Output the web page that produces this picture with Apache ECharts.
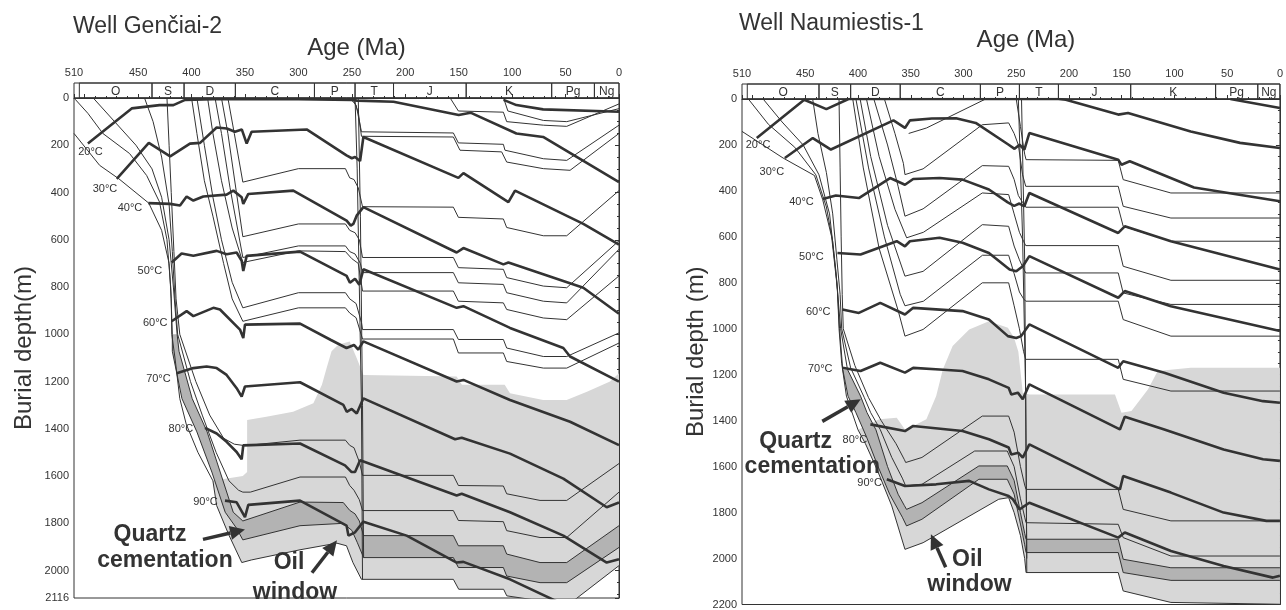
<!DOCTYPE html>
<html>
<head>
<meta charset="utf-8">
<script src="https://cdn.jsdelivr.net/npm/echarts@6/dist/echarts.min.js"></script>
<style>
  html, body { margin: 0; padding: 0; background: #fff; }
  #chart { width: 1286px; height: 610px; }
</style>
</head>
<body>
<div id="chart"></div>
<script>
// ---------- stratigraphic column ----------
var periodNames = ['O', 'S', 'D', 'C', 'P', 'T', 'J', 'K', 'Pg', 'Ng'];
var g2PeriodStart = [505, 437, 407, 359, 285, 247, 211, 143, 63, 23];
var n1PeriodStart = [505, 437, 407, 360, 284, 247, 210, 141.5, 61, 21];

// ---------- Well Genciai-2 : isotherms [age Ma, depth m] ----------
var g2Iso10 = [[108,8],[96,30],[71,48],[0,58]];
var g2Iso20 = [[497,193],[456,44],[430,30],[417,30],[406,8],[380,5],[300,5],[250,8],[245,11],[211,16],[150,72],[139,62],[96,150],[71,165],[0,356]];
var g2Iso30 = [[470,342],[440,190],[420,247],[401.5,193],[392,190],[376.5,125],[367,129],[359.4,143],[353,133],[348.4,193],[343.8,143],[292.3,133],[255,243],[250,255],[247,250],[242.3,267],[239.2,165],[150.3,338],[145.6,318],[103.5,441],[97.3,392],[33.4,533],[0,621]];
var g2Iso40 = [[440.4,445],[420.2,448],[410.8,455],[404.6,417],[398.3,434],[389,417],[367.2,409],[360.9,392],[353.1,420],[351.6,448],[346.9,406],[304.8,392],[254.9,519],[251,540],[248.6,533],[245.5,498],[239.2,462],[151.9,654],[145.6,635],[108.2,704],[103.5,696],[33.4,803],[0,913]];
var g2Iso50 = [[418.6,696],[409.3,658],[398.3,668],[376.5,647],[367.2,661],[357.8,654],[353.1,689],[351.6,732],[348.4,668],[298.5,650],[254.9,753],[251.8,782],[247,765],[243,790],[239.2,725],[151.9,888],[145.6,881],[102,973],[52.1,1058],[45.8,1094],[0,1200]];
var g2Iso60 = [[418.6,945],[404.6,902],[398.3,923],[379.6,888],[373.4,895],[354.7,980],[351.6,1016],[350,959],[298.5,955],[270,1023],[255,1058],[248,1045],[244,1065],[239.2,1030],[151.9,1200],[145.6,1193],[102,1278],[45.8,1370],[0,1469]];
var g2Iso70 = [[413.9,1165],[398.3,1143],[385.9,1136],[376.5,1143],[367.2,1172],[357.8,1228],[353.1,1264],[350,1221],[298.5,1203],[257.9,1299],[254.8,1328],[250.1,1316],[245.4,1335],[239.2,1271],[153.4,1444],[147.2,1438],[102,1505],[52.1,1611],[11.5,1732],[0,1712]];
var g2Iso80 = [[387.4,1396],[376.5,1420],[367.2,1455],[357.8,1498],[353.1,1529],[351.6,1470],[298.5,1462],[256.4,1555],[250.2,1583],[247,1583],[242.3,1533],[151.9,1682],[147.2,1675],[102,1753],[52.1,1852],[11.5,1966],[0,1952]];
var g2Iso90 = [[368.7,1704],[357.8,1711],[350,1774],[346.9,1722],[298.5,1704],[254.9,1810],[253.2,1852],[247,1838],[239.2,1793],[198.7,1852],[151.9,1966],[145.6,1963],[102,2037],[48.9,2150]];

// ---------- Well Genciai-2 : burial curves ----------
var g2Base = [[510,150],[486,285],[468,342],[440,445],[428,560],[421,700],[419,850],[418.5,1000],[415.5,1100],[411,1272],[405,1380],[394,1500],[380,1620],[376.5,1725],[365,1850],[353,1966],[344,1955],[298.5,1912],[264,1884],[255,1895],[249,1966],[241,2037],[155,2037],[150,2079],[108,2079],[105,2107],[70,2130],[49,2150],[0,1979]];
var g2LayerL = [[509,5],[497,65],[483,150],[458,235],[442,328],[430,440],[423,600],[419.5,800],[418,1000],[418,1072],[409,1272],[395,1413],[381,1583],[368.5,1753],[358,1820],[352,1870],[298.5,1810],[258,1800],[250,1830],[245,1880],[239,1945],[155,1945],[150.3,1987],[108.2,1987],[105.1,2023],[73.9,2051],[48.9,2051],[0,1902]];
var g2LayerK = [[492,0],[472,100],[452,200],[437,300],[428,420],[421,600],[417,800],[413.5,1000],[411.7,1072],[399.4,1272],[385.4,1413],[373.2,1583],[361,1753],[352,1790],[298.5,1710],[258,1712],[252,1745],[247,1760],[243,1790],[239,1852],[155,1852],[150.3,1895],[108.2,1895],[105.1,1930],[73.9,1966],[48.9,1966],[0,1810]];
var g2LayerJ = [[444,0],[436,100],[428,250],[421,450],[418,650],[415.5,850],[413,1000],[401,1200],[390,1342],[377,1500],[365,1620],[356,1660],[352,1668],[345,1668],[298.5,1604],[256,1604],[252,1640],[248,1660],[243,1700],[240,1746],[155,1746],[150.3,1788],[108.2,1793],[105.1,1831],[73.9,1860],[48.9,1860],[0,1668]];
var g2LayerI = [[423,0],[421,200],[419,400],[416.5,650],[414.5,850],[411,1000],[396,1200],[383,1342],[370,1440],[360,1465],[352,1470],[345,1469],[298.5,1448],[256,1448],[252,1470],[248,1480],[243,1540],[240,1597],[155,1597],[150.3,1640],[108.2,1642],[105.1,1675],[73.9,1703],[48.9,1703],[0,1547]];
var g2LayerD6 = [[400,0],[395,150],[388,350],[380,500],[370,700],[362,850],[352,945],[300,888],[256,888],[252,910],[246,930],[240,1020],[155,1020],[150.3,1079],[108.2,1079],[105.1,1115],[70.8,1143],[48.9,1143],[0,1037]];
var g2LayerD5 = [[395,0],[388,200],[380,420],[372,600],[362,780],[352,888],[300,824],[256,824],[252,850],[246,870],[241,950],[240,980],[155,980],[150.3,1022],[108.2,1022],[105.1,1058],[70.8,1094],[48.9,1094],[0,994]];
var g2LayerD4 = [[385,0],[380,150],[372,350],[362,550],[352,696],[300,647],[256,650],[250,680],[244,700],[240,817],[155,817],[150.3,860],[108.2,867],[105.1,895],[70.8,931],[48.9,938],[0,753]];
var g2LayerD3 = [[378,0],[372,150],[364,380],[352,675],[300,626],[256,626],[252,650],[247,660],[242,700],[240,739],[155,739],[150.3,782],[108.2,789],[105.1,824],[70.8,860],[48.9,867],[0,640]];
var g2LayerD2 = [[372,0],[366,150],[358,400],[352,587],[300,533],[256,533],[252,560],[247,570],[243,600],[240,675],[155,675],[150.3,718],[108.2,725],[105.1,760],[70.8,796],[48.9,803],[0,604]];
var g2LayerD1 = [[366,0],[360,150],[352,356],[300,299],[256,299],[252,338],[248,345],[244,380],[240,460],[155,462],[150.3,505],[108.2,512],[105.1,548],[70.8,583],[48.9,583],[0,392]];
var g2LayerTa = [[252,0],[246,30],[241,143],[155,148],[150.3,190],[108.2,196],[106.7,221],[70.8,257],[48.9,264],[0,115]];
var g2LayerTb = [[249,0],[244,60],[241,162],[155,165],[148.8,221],[109.8,228],[105.1,271],[70.8,299],[45.8,306],[0,150]];
var g2LayerJr = [[158,0],[150.3,55],[108.2,60],[105.1,100],[70.8,115],[48.9,120],[0,25]];
var g2LayerKr = [[108,0],[104,55],[70.8,95],[48.9,100],[0,45]];
var g2Steep1 = [[247,0],[245,300],[243,800],[241,1300],[240,2037]];
var g2Steep2 = [[244,0],[242,500],[240,1300],[239,1945]];
// upper edge of the oil window (lower edge follows g2Base)
var g2OilTop = [[380,1620],[352,1600],[348,1583],[348,1363],[330,1349],[305,1328],[286,1292],[278,1214],[273.6,1143],[269,1072],[262.7,1044],[252,1030],[245.4,1101],[239.2,1172],[152,1179],[147,1214],[107,1214],[102,1250],[71,1278],[49,1278],[30,1243],[8.4,1200],[0,1165]];
var g2QuartzFromDepth = 1000;
var g2Temps = [[494.6,228,'20°C'],[481,383,'30°C'],[457.6,464,'40°C'],[439,732,'50°C'],[434,953,'60°C'],[431,1187,'70°C'],[410,1400,'80°C'],[387,1711,'90°C']];
var g2Notes = [[438.9,1847,'Quartz'],[424.9,1957,'cementation'],[308.8,1966,'Oil'],[303.2,2094,'window']];
var g2Arrows = [[389.3,1868,350,1826],[287.3,2009,263.9,1872]];

// ---------- Well Naumiestis-1 : isotherms ----------
var n1Iso10 = [[47,0],[0,39]];
var n1Iso20 = [[496,170],[451,3],[430,44],[409,0],[210,0],[203,3],[153.3,68],[144,61],[84.6,141],[37.8,191],[0,213]];
var n1Iso30 = [[469.4,257],[442.9,170],[425.7,220],[366.4,93],[355.5,126],[350.8,93],[330,85],[307.1,84],[288.4,104],[257.2,199],[251.6,217],[246.9,199],[242.3,220],[237.6,148],[153.3,264],[150.2,286],[142.4,271],[81.5,385],[0,445]];
var n1Iso40 = [[433.5,435],[421,420],[399.2,431],[369.6,344],[355.5,373],[347.7,348],[322.7,344],[300.9,351],[275.9,394],[258,450],[252,465],[247,455],[242.3,467],[237.6,409],[153.3,583],[147.1,554],[103.4,619],[0,742]];
var n1Iso50 = [[419.5,670],[397.6,677],[363.3,619],[355.5,641],[350.8,619],[322.7,604],[300.9,626],[275.9,670],[256.3,742],[250,750],[243.8,728],[237.6,684],[153.3,865],[147.1,836],[103.4,902],[0,1010]];
var n1Iso60 = [[414.8,916],[399.2,931],[378.9,887],[355.5,938],[347.7,909],[300.9,923],[275.9,960],[257.9,1032],[250,1040],[245.4,1032],[237.6,981],[153.3,1170],[148.6,1141],[109.6,1191],[53.4,1278],[16,1315],[0,1322]];
var n1Iso70 = [[414.8,1170],[397.6,1184],[378.9,1148],[355.5,1191],[347.7,1170],[322.7,1177],[300.9,1184],[275.9,1220],[257.2,1257],[254.7,1286],[248.5,1278],[243.8,1307],[237.6,1242],[151.7,1438],[147.1,1383],[109.6,1438],[53.4,1525],[16,1568],[0,1575]];
var n1Iso80 = [[388.3,1416],[355.5,1445],[347.7,1423],[300.9,1445],[275.9,1481],[257.2,1517],[254.7,1547],[248,1540],[243.8,1561],[237.6,1503],[151.7,1699],[148.6,1641],[103.4,1713],[53.4,1800],[12.8,1836],[0,1836]];
var n1Iso90 = [[372.7,1655],[355.5,1684],[325.9,1677],[294.6,1662],[275.9,1699],[257.2,1728],[253.2,1742],[246.9,1786],[237.6,1757],[153.3,1909],[147.1,1887],[103.4,1967],[53.4,2032],[6.6,2083],[0,2075]];

// ---------- Well Naumiestis-1 : burial curves ----------
var n1Base = [[510,141],[471,257],[441.3,333],[433.5,438],[425,600],[419.5,829],[418,1000],[415.5,1150],[411,1293],[400,1440],[393,1500],[382,1612],[368,1771],[355.5,1960],[338.3,1931],[266.6,1742],[257.2,1735],[252,1800],[246,1900],[242,2000],[240.7,2061],[153.3,2061],[148.6,2141],[103.4,2191],[0,2199]];
var n1LayerL = [[504,0],[485,110],[460,210],[440,330],[430,470],[424,620],[420,800],[417.5,1000],[414.5,1177],[409.5,1293],[402,1365],[392,1470],[381,1600],[370,1720],[358,1820],[354,1858],[339.4,1829],[285.4,1655],[258.5,1655],[252,1720],[246,1850],[242,1940],[240.7,1974],[153.3,1974],[148.6,2061],[103.4,2095],[0,2095]];
var n1LayerK = [[490,0],[472,100],[452,200],[437,330],[427,500],[421,750],[416.5,1000],[410,1177],[397.6,1293],[391.5,1365],[383,1440],[372,1600],[362,1720],[356,1770],[354,1786],[339.4,1757],[285.4,1597],[258.5,1597],[252,1660],[246,1800],[242,1890],[240.7,1916],[153.3,1916],[148.6,2003],[103.4,2040],[0,2040]];
var n1LayerJ = [[443,0],[438,150],[430,320],[424,500],[420,700],[417,850],[415.5,1000],[407,1170],[394,1300],[388,1365],[379,1438],[368,1560],[358,1650],[354.8,1684],[339.4,1677],[289.4,1532],[258.5,1532],[252,1600],[246,1740],[242,1820],[240.7,1844],[153.3,1851],[148.6,1909],[103.4,1989],[0,1989]];
var n1LayerI = [[418,0],[417,300],[416,600],[415,850],[414,1000],[403,1160],[390,1300],[378,1400],[364,1500],[356,1570],[354.8,1582],[339.4,1560],[282.2,1380],[257.2,1380],[252,1450],[246,1600],[242,1680],[240.7,1699],[153.3,1699],[148.6,1786],[103.4,1836],[0,1836]];
var n1LayerC6 = [[405,0],[395,300],[380,650],[362,920],[355.5,1032],[338.3,1003],[282.2,800],[257.2,800],[252,900],[247,1000],[243,1100],[241,1133],[153.3,1133],[148.6,1220],[103.4,1271],[0,1271]];
var n1LayerC5 = [[402,0],[390,300],[375,600],[360,850],[355.5,900],[338,880],[282,680],[257.2,680],[252,760],[247,840],[243,870],[241,880],[153.3,880],[148.6,960],[103.4,1032],[0,1032]];
var n1LayerC4 = [[398,0],[388,250],[372,550],[355.5,771],[338.3,750],[282.2,547],[257.2,554],[252,640],[247,700],[243,740],[241,757],[153.3,757],[148.6,844],[103.4,894],[0,894]];
var n1LayerC3 = [[392,0],[380,250],[365,480],[353.9,604],[338,580],[282.2,409],[257.2,416],[252,500],[247,580],[243,620],[241,638],[153.3,638],[148.6,728],[103.4,789],[0,789]];
var n1LayerC2 = [[385,0],[372,200],[362,380],[355.5,510],[338.3,478],[282.2,290],[257.2,293],[252,350],[248,420],[244,450],[241,471],[153.3,471],[148.6,554],[103.4,619],[0,619]];
var n1LayerC1 = [[375,0],[365,150],[357,280],[355.5,329],[338.3,304],[282.2,112],[257.2,104],[252,150],[248,200],[244,330],[241,380],[153.3,380],[148.6,467],[103.4,518],[0,518]];
var n1LayerCx = [[352,150],[335,126],[279,0]];
var n1LayerT = [[250,0],[246,120],[242,240],[240.7,264],[153.3,267],[148.6,351],[103.4,409],[0,409]];
var n1Steep1 = [[248,0],[244,600],[241,1300],[240,2061]];
var n1Steep2 = [[245,0],[242,700],[240,2000]];
var n1OilTop = [[400,1440],[380,1394],[363.3,1387],[355.5,1438],[347.7,1423],[335.2,1394],[325.9,1293],[319.6,1177],[310.3,1075],[294.6,1003],[275.9,967],[257.9,996],[252,1040],[248,1100],[243.8,1278],[237.6,1286],[156.4,1286],[150.2,1365],[140.8,1358],[125.2,1264],[115.9,1184],[84.6,1170],[0,1170]];
var n1QuartzFromDepth = 1150;
var n1Temps = [[494.8,199,'20°C'],[481.7,316,'30°C'],[453.6,447,'40°C'],[444.2,686,'50°C'],[437.7,925,'60°C'],[435.8,1177,'70°C'],[403,1482,'80°C'],[389,1673,'90°C']];
var n1Notes = [[459.2,1490,'Quartz'],[443.3,1599,'cementation'],[296.3,2003,'Oil'],[294.4,2112,'window']];
var n1Arrows = [[433.9,1403,397.4,1307],[316.9,2038,330.9,1894]];

var FONT = '"Liberation Sans", Arial, sans-serif';
var INK = '#333';
var OIL = '#d7d7d7';
var QUARTZ = '#b3b3b3';

function fromDepth(pts, d) {
    for (var i = 0; i < pts.length; i++) {
        if (pts[i][1] >= d) return pts.slice(i);
    }
    return [];
}
function bandBetween(upper, lower, d0) {
    return fromDepth(upper, d0).concat(fromDepth(lower, d0).reverse());
}
function oilPolygon(top, base) {
    var start = top[0][0];
    var bot = base.filter(function (p) { return p[0] <= start; }).reverse();
    return top.concat(bot);
}
function polygonSeries(gi, pts, color, z) {
    return {
        type: 'custom', xAxisIndex: gi, yAxisIndex: gi, clip: true, silent: true, z: z,
        data: [[pts[0][0], pts[0][1]]],
        renderItem: function (params, api) {
            return {
                type: 'polygon',
                shape: { points: pts.map(function (p) { return api.coord(p); }) },
                style: { fill: color }
            };
        }
    };
}
function lineSeries(gi, pts, thick) {
    return {
        type: 'line', xAxisIndex: gi, yAxisIndex: gi, data: pts,
        showSymbol: false, symbol: 'none', silent: true, clip: true, z: thick ? 4 : 3,
        lineStyle: { color: INK, width: thick ? 2.6 : 1 }
    };
}
function columnSeries(gi, starts) {
    var data = starts.map(function (s, i) { return [s, i + 1 < starts.length ? starts[i + 1] : 0, i]; });
    data.unshift([510, 0, -1]);
    return {
        type: 'custom', xAxisIndex: gi, yAxisIndex: gi, clip: false, silent: true, z: 5,
        data: data,
        renderItem: function (params, api) {
            var p0 = api.coord([api.value(0), 0]);
            var p1 = api.coord([api.value(1), 0]);
            var idx = api.value(2), h = 15;
            var rect = {
                type: 'rect',
                shape: { x: p0[0], y: p0[1] - h, width: p1[0] - p0[0], height: h },
                style: { fill: 'none', stroke: INK, lineWidth: 1 }
            };
            if (idx < 0) return rect;
            return {
                type: 'group',
                children: [rect, {
                    type: 'text', x: (p0[0] + p1[0]) / 2, y: p0[1] - h / 2 + 1,
                    style: { text: periodNames[idx], fontSize: 12, fontFamily: FONT, fill: INK, align: 'center', verticalAlign: 'middle' }
                }]
            };
        }
    };
}
function textSeries(gi, notes, size, weight) {
    return {
        type: 'custom', xAxisIndex: gi, yAxisIndex: gi, clip: false, silent: true, z: 7,
        data: notes.map(function (n) { return [n[0], n[1]]; }),
        renderItem: function (params, api) {
            var p = api.coord([api.value(0), api.value(1)]);
            return {
                type: 'text', x: p[0], y: p[1],
                style: { text: notes[params.dataIndex][2], fontSize: size, fontWeight: weight, fontFamily: FONT, fill: INK, align: 'center', verticalAlign: 'middle' }
            };
        }
    };
}
function arrowSeries(gi, arrows) {
    return {
        type: 'custom', xAxisIndex: gi, yAxisIndex: gi, clip: false, silent: true, z: 7,
        data: arrows,
        renderItem: function (params, api) {
            var a = api.coord([api.value(0), api.value(1)]);
            var b = api.coord([api.value(2), api.value(3)]);
            var dx = b[0] - a[0], dy = b[1] - a[1];
            var len = Math.sqrt(dx * dx + dy * dy), ux = dx / len, uy = dy / len;
            var hl = 15, hw = 7;
            var base = [b[0] - ux * hl, b[1] - uy * hl];
            return {
                type: 'group',
                children: [
                    { type: 'line', shape: { x1: a[0], y1: a[1], x2: base[0], y2: base[1] }, style: { stroke: INK, lineWidth: 3.5 } },
                    { type: 'polygon', shape: { points: [b, [base[0] - uy * hw, base[1] + ux * hw], [base[0] + uy * hw, base[1] - ux * hw]] }, style: { fill: INK } }
                ]
            };
        }
    };
}

function xAxisFor(gi, gap, shift) {
    return {
        gridIndex: gi, type: 'value', inverse: true, min: 0, max: 510, interval: 50,
        position: 'top', offset: 15,
        name: 'Age (Ma)', nameLocation: 'middle', nameGap: gap,
        nameTextStyle: { fontSize: 24, fontFamily: FONT, color: INK, padding: [0, 0, 0, shift] },
        axisLine: { show: true, lineStyle: { color: INK, width: 1 } },
        axisTick: { show: true, length: 4, lineStyle: { color: INK } },
        minorTick: { show: true, splitNumber: 5, length: 2, lineStyle: { color: INK } },
        axisLabel: {
            fontSize: 11, fontFamily: FONT, color: INK, margin: 5, showMaxLabel: true, showMinLabel: true,
            formatter: function (v) { return v === 500 ? '' : String(v); }
        },
        splitLine: { show: false }
    };
}
function yAxisFor(gi, max, name, gap) {
    return {
        gridIndex: gi, type: 'value', inverse: true, min: 0, max: max, interval: 200,
        name: name, nameLocation: 'middle', nameGap: gap, nameRotate: 90,
        nameTextStyle: { fontSize: 24, fontFamily: FONT, color: INK },
        axisLine: { show: true, lineStyle: { color: INK, width: 1 } },
        axisTick: { show: true, length: 4, lineStyle: { color: INK } },
        minorTick: { show: true, splitNumber: 4, length: 2, lineStyle: { color: INK } },
        axisLabel: {
            fontSize: 11, fontFamily: FONT, color: INK, margin: 5, showMaxLabel: true,
            formatter: function (v) { return String(v); }
        },
        splitLine: { show: false }
    };
}

function wellSeries(gi, w) {
    var s = [];
    s.push(polygonSeries(gi, oilPolygon(w.oilTop, w.base), OIL, 1));
    s.push(polygonSeries(gi, bandBetween(w.quartzTop, w.quartzBottom, w.quartzFromDepth), QUARTZ, 2));
    w.thin.forEach(function (p) { s.push(lineSeries(gi, p, false)); });
    w.thick.forEach(function (p) { s.push(lineSeries(gi, p, true)); });
    s.push(columnSeries(gi, w.periods));
    s.push(textSeries(gi, w.temps, 11, 'normal'));
    s.push(textSeries(gi, w.notes, 23, 'bold'));
    s.push(arrowSeries(gi, w.arrows));
    return s;
}

var series = [].concat(
    wellSeries(0, {
        oilTop: g2OilTop, base: g2Base, quartzTop: g2LayerK, quartzBottom: g2LayerL, quartzFromDepth: g2QuartzFromDepth,
        thin: [g2Base, g2LayerL, g2LayerK, g2LayerJ, g2LayerI, g2LayerD6, g2LayerD5, g2LayerD4, g2LayerD3, g2LayerD2, g2LayerD1,
               g2LayerTa, g2LayerTb, g2LayerJr, g2LayerKr, g2Steep1, g2Steep2],
        thick: [g2Iso10, g2Iso20, g2Iso30, g2Iso40, g2Iso50, g2Iso60, g2Iso70, g2Iso80, g2Iso90],
        periods: g2PeriodStart, temps: g2Temps, notes: g2Notes, arrows: g2Arrows
    }),
    wellSeries(1, {
        oilTop: n1OilTop, base: n1Base, quartzTop: n1LayerK, quartzBottom: n1LayerL, quartzFromDepth: n1QuartzFromDepth,
        thin: [n1Base, n1LayerL, n1LayerK, n1LayerJ, n1LayerI, n1LayerC6, n1LayerC5, n1LayerC4, n1LayerC3, n1LayerC2, n1LayerC1,
               n1LayerCx, n1LayerT, n1Steep1, n1Steep2],
        thick: [n1Iso10, n1Iso20, n1Iso30, n1Iso40, n1Iso50, n1Iso60, n1Iso70, n1Iso80, n1Iso90],
        periods: n1PeriodStart, temps: n1Temps, notes: n1Notes, arrows: n1Arrows
    })
);

var chart = echarts.init(document.getElementById('chart'));
chart.setOption({
    animation: false,
    backgroundColor: '#fff',
    title: [
        { text: 'Well Genčiai-2', left: 73, top: 15, padding: 0, textStyle: { fontSize: 23, fontWeight: 'normal', fontFamily: FONT, color: INK } },
        { text: 'Well Naumiestis-1', left: 739, top: 12, padding: 0, textStyle: { fontSize: 23, fontWeight: 'normal', fontFamily: FONT, color: INK } }
    ],
    grid: [
        { left: 74, top: 98, width: 545, height: 500, show: true, borderColor: INK, borderWidth: 1, backgroundColor: 'transparent' },
        { left: 742, top: 99, width: 545, height: 506, show: true, borderColor: INK, borderWidth: 1, backgroundColor: 'transparent' }
    ],
    xAxis: [xAxisFor(0, 23, 20), xAxisFor(1, 32, 30)],
    yAxis: [yAxisFor(0, 2116, 'Burial depth(m)', 38), yAxisFor(1, 2200, 'Burial depth (m)', 28)],
    series: series
});
</script>
</body>
</html>
